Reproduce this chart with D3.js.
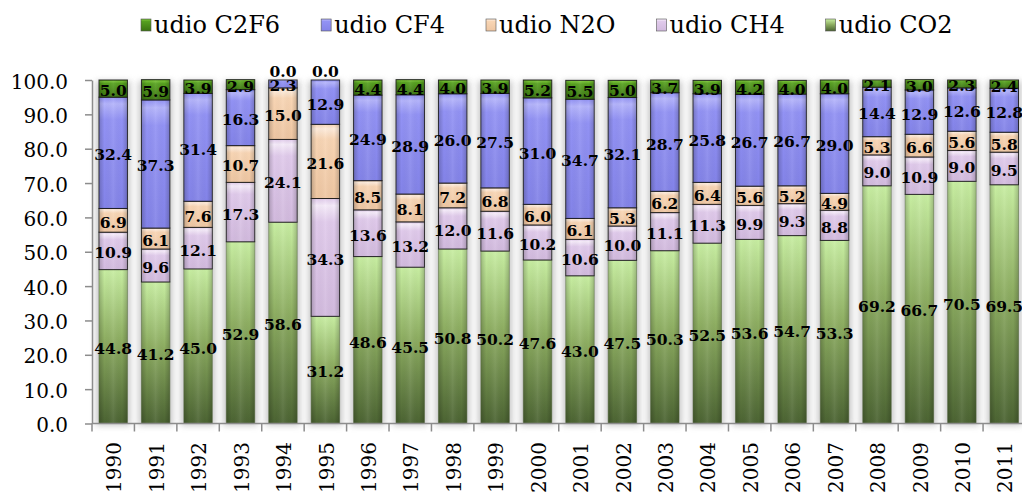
<!DOCTYPE html>
<html><head><meta charset="utf-8">
<script src="https://cdn.jsdelivr.net/npm/d3@7"></script>
<style>body{margin:0;background:#fff}svg{display:block}</style>
</head><body><svg id="c" width="1022" height="492"></svg>
<script>
const years = ["1990","1991","1992","1993","1994","1995","1996","1997","1998","1999","2000","2001","2002","2003","2004","2005","2006","2007","2008","2009","2010","2011"];
const co2  = [44.8,41.2,45.0,52.9,58.6,31.2,48.6,45.5,50.8,50.2,47.6,43.0,47.5,50.3,52.5,53.6,54.7,53.3,69.2,66.7,70.5,69.5];
const ch4  = [10.9,9.6,12.1,17.3,24.1,34.3,13.6,13.2,12.0,11.6,10.2,10.6,10.0,11.1,11.3,9.9,9.3,8.8,9.0,10.9,9.0,9.5];
const n2o  = [6.9,6.1,7.6,10.7,15.0,21.6,8.5,8.1,7.2,6.8,6.0,6.1,5.3,6.2,6.4,5.6,5.2,4.9,5.3,6.6,5.6,5.8];
const cf4  = [32.4,37.3,31.4,16.3,2.3,12.9,24.9,28.9,26.0,27.5,31.0,34.7,32.1,28.7,25.8,26.7,26.7,29.0,14.4,12.9,12.6,12.8];
const c2f6 = [5.0,5.9,3.9,2.9,0.0,0.0,4.4,4.4,4.0,3.9,5.2,5.5,5.0,3.7,3.9,4.2,4.0,4.0,2.1,3.0,2.3,2.4];
const seriesKeys = ["udio CO2","udio CH4","udio N2O","udio CF4","udio C2F6"];
const seriesValues = [co2, ch4, n2o, cf4, c2f6];
const legendOrder = ["udio C2F6","udio CF4","udio N2O","udio CH4","udio CO2"];
const yTicks = [0,10,20,30,40,50,60,70,80,90,100];

// colour styles: [top highlight, base, bottom]
const palette = {
  "udio CO2":  ["#c8eea2","#8eae62","#4b6332"],
  "udio CH4":  ["#f5ebf9","#e0caeb","#d2bade"],
  "udio N2O":  ["#fdebdb","#f8d5b4","#eec6a2"],
  "udio CF4":  ["#b4b4fb","#9292f4","#8383e8"],
  "udio C2F6": ["#78c236","#56a01f","#3a7310"]
};

const table = years.map((y,i)=>{
  const r = {year:y};
  seriesKeys.forEach((k,j)=> r[k] = seriesValues[j][i]);
  return r;
});
const stacked = d3.stack().keys(seriesKeys)(table);

const svg = d3.select("#c");
const defs = svg.append("defs");
const fontSerif = "'DejaVu Serif', 'Liberation Serif', serif";

seriesKeys.forEach((k,i)=>{
  const c = palette[k];
  const g = defs.append("linearGradient").attr("id","g"+i).attr("x1",0).attr("y1",0).attr("x2",0).attr("y2",1);
  if (k === "udio CO2") {
    g.append("stop").attr("offset","0").attr("stop-color",c[0]);
    g.append("stop").attr("offset","0.45").attr("stop-color",c[1]);
    g.append("stop").attr("offset","1").attr("stop-color",c[2]);
  } else {
    g.append("stop").attr("offset","0").attr("stop-color",c[1]);
    g.append("stop").attr("offset","0.06").attr("stop-color",c[0]);
    g.append("stop").attr("offset","0.2").attr("stop-color",c[1]);
    g.append("stop").attr("offset","1").attr("stop-color",c[2]);
  }
});
const hg = defs.append("linearGradient").attr("id","edge").attr("x1",0).attr("y1",0).attr("x2",1).attr("y2",0);
hg.append("stop").attr("offset","0").attr("stop-color","#000").attr("stop-opacity",0.18);
hg.append("stop").attr("offset","0.18").attr("stop-color","#000").attr("stop-opacity",0);
hg.append("stop").attr("offset","0.5").attr("stop-color","#fff").attr("stop-opacity",0.08);
hg.append("stop").attr("offset","0.82").attr("stop-color","#000").attr("stop-opacity",0);
hg.append("stop").attr("offset","1").attr("stop-color","#000").attr("stop-opacity",0.18);
const blur = defs.append("filter").attr("id","sh").attr("x","-50%").attr("y","-10%").attr("width","200%").attr("height","120%");
blur.append("feGaussianBlur").attr("stdDeviation",3.2);

const x = d3.scaleBand().domain(years).range([92,1025.5]).paddingInner(0.33).paddingOuter(0.165);
const y = d3.scaleLinear().domain([0,100]).range([423.5,80]);

// shadows
svg.append("g").selectAll("rect").data(table).join("rect")
  .attr("x", d=>x(d.year)-3).attr("width", x.bandwidth()+6)
  .attr("y", y(100)+1).attr("height", y(0)-y(100)+1)
  .attr("fill","#9a9a9a").attr("opacity",0.55).attr("filter","url(#sh)");

// bars
const layers = svg.append("g").selectAll("g").data(stacked).join("g");
layers.selectAll("rect.seg").data((d,i)=>d.map(p=>({p, i}))).join("rect")
  .attr("class","seg")
  .attr("x", d=>x(d.p.data.year)).attr("width", x.bandwidth())
  .attr("y", d=>y(d.p[1])).attr("height", d=>Math.max(0, y(d.p[0])-y(d.p[1])))
  .attr("fill", d=>`url(#g${d.i})`)
  .attr("stroke", d=> d.i===0 ? "#3d4f2a" : "#1a1a1a").attr("stroke-width",1)
  .attr("stroke-opacity", d=> d.i===0 ? 0.5 : 0.9);
layers.selectAll("rect.ov").data((d,i)=>d.map(p=>({p, i}))).join("rect")
  .attr("class","ov")
  .attr("x", d=>x(d.p.data.year)+0.5).attr("width", x.bandwidth()-1)
  .attr("y", d=>y(d.p[1])+0.5).attr("height", d=>Math.max(0, y(d.p[0])-y(d.p[1])-1))
  .attr("fill","url(#edge)");

// axes
const yAxis = svg.append("g").attr("transform","translate(92,0)")
  .call(d3.axisLeft(y).tickValues(yTicks).tickFormat(d3.format(".1f")).tickSize(7).tickSizeOuter(0).tickPadding(17));
yAxis.selectAll("path,line").attr("stroke","#8c8c8c").attr("stroke-width",1.5);
yAxis.selectAll("text").attr("font-family",fontSerif).attr("font-size",20).attr("fill","#000").attr("dy","0.4em");

const step = x.step();
const bounds = years.map(yr => x(yr) - step*x.paddingInner()/2).concat([x(years[years.length-1]) + x.bandwidth() + step*x.paddingInner()/2]);
const xAxis = svg.append("g");
xAxis.append("line").attr("x1",92).attr("x2",1025.5).attr("y1",y(0)).attr("y2",y(0)).attr("stroke","#8c8c8c").attr("stroke-width",1.5);
xAxis.selectAll("line.t").data(bounds).join("line").attr("class","t")
  .attr("x1",d=>d).attr("x2",d=>d).attr("y1",y(0)).attr("y2",y(0)+8)
  .attr("stroke","#8c8c8c").attr("stroke-width",1.5);
xAxis.selectAll("text").data(years).join("text")
  .attr("transform", d=>`translate(${x(d)+x.bandwidth()/2+1},442) rotate(-90)`)
  .attr("text-anchor","end").attr("dy","0.36em")
  .attr("font-family",fontSerif).attr("font-size",20).attr("fill","#000")
  .text(d=>d);

// data labels
const fmt = d3.format(".1f");
const lab = svg.append("g");
stacked.forEach((layer,i)=>{
  lab.selectAll(null).data(layer).join("text")
    .attr("x", d=>x(d.data.year)+x.bandwidth()/2)
    .attr("y", d=> (d[1]-d[0])===0 ? y(d[1])-9 : (y(d[0])+y(d[1]))/2 + 2)
    .attr("text-anchor","middle").attr("dominant-baseline","central")
    .attr("font-family",fontSerif).attr("font-weight","bold").attr("font-size",15.5).attr("fill","#000")
    .text(d=>fmt(d[1]-d[0]));
});

// legend
const leg = svg.append("g");
let lx = 141;
legendOrder.forEach(k=>{
  const i = seriesKeys.indexOf(k);
  leg.append("rect").attr("x",lx).attr("y",19).attr("width",10).attr("height",12)
    .attr("fill",`url(#g${i})`).attr("stroke","#555").attr("stroke-width",0.6);
  const t = leg.append("text").attr("x",lx+13).attr("y",33)
    .attr("font-family",fontSerif).attr("font-size",24).attr("fill","#000").text(k);
  lx += 13 + t.node().getComputedTextLength() + 41;
});
</script></body></html>
